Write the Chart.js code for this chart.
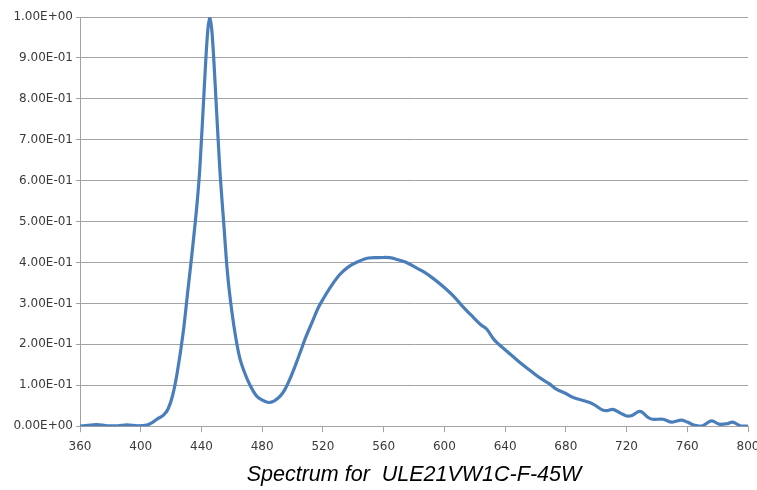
<!DOCTYPE html>
<html>
<head>
<meta charset="utf-8">
<script src="https://cdn.jsdelivr.net/npm/chart.js@4/dist/chart.umd.min.js"></script>
<style>
  html, body { margin: 0; padding: 0; background: #fff; }
  #wrap { width: 757px; height: 490px; }
</style>
</head>
<body>
<div id="wrap"><canvas id="c"></canvas></div>
<script>
// spectrum: wavelength (nm) -> relative intensity
var wavelengths = [360, 365, 371, 378, 385, 391, 398, 404, 408, 411, 415, 418, 421, 424, 428, 431, 434, 437, 439, 442, 444, 445.5, 447, 449, 452, 455, 457, 459, 462, 465, 468, 472, 476, 479, 484, 488, 492, 495, 498, 502, 505, 509, 513, 517, 520, 525, 531, 537, 543, 550, 557, 564, 570, 575, 581, 587, 593, 599, 606, 612, 618, 624, 628, 632, 635, 640, 645, 651, 658, 663, 669, 674, 680, 685, 692, 698, 704, 707, 711, 716, 720, 724, 728, 730, 734, 737, 744, 750, 756, 760, 765, 770, 776, 781, 786, 790, 795, 800];
var intensity = [0.0, 0.002, 0.004, 0.001, 0.001, 0.003, 0.001, 0.003, 0.010, 0.018, 0.027, 0.042, 0.075, 0.13, 0.23, 0.33, 0.43, 0.54, 0.634, 0.837, 0.96, 1.0, 0.96, 0.837, 0.634, 0.48, 0.38, 0.31, 0.23, 0.17, 0.135, 0.1, 0.075, 0.066, 0.058, 0.062, 0.074, 0.09, 0.113, 0.15, 0.18, 0.22, 0.255, 0.29, 0.31, 0.34, 0.37, 0.39, 0.402, 0.411, 0.412, 0.412, 0.406, 0.40, 0.388, 0.376, 0.36, 0.342, 0.318, 0.293, 0.27, 0.248, 0.237, 0.215, 0.203, 0.187, 0.171, 0.152, 0.132, 0.118, 0.104, 0.09, 0.08, 0.07, 0.062, 0.054, 0.04, 0.038, 0.041, 0.032, 0.025, 0.027, 0.036, 0.035, 0.022, 0.017, 0.017, 0.01, 0.015, 0.01, 0.002, 0.001, 0.013, 0.005, 0.006, 0.01, 0.001, 0.0];
var xTicks = [360, 400, 440, 480, 520, 560, 600, 640, 680, 720, 760, 800];
var titleText = "Spectrum for  ULE21VW1C-F-45W";

var points = wavelengths.map(function(w, i) { return { x: w, y: intensity[i] }; });

// Excel style scientific labels, e.g. 9.00E-01
function sci(v) {
  var s = Number(v).toExponential(2).toUpperCase();
  var parts = s.split("E");
  var sign = parts[1].charAt(0);
  var exp = parts[1].slice(1);
  if (exp.length < 2) exp = "0" + exp;
  return parts[0] + "E" + sign + exp;
}

var gridGray = "#a3a3a3";
var textGray = "#3a3a3a";

new Chart(document.getElementById("c"), {
  type: "line",
  data: {
    datasets: [{
      data: points,
      borderColor: "#4a7ebb",
      borderWidth: 3.2,
      pointRadius: 0,
      fill: false,
      tension: 0.35
    }]
  },
  options: {
    responsive: true,
    maintainAspectRatio: false,
    animation: false,
    layout: { padding: { top: 17, right: 9, left: 0, bottom: 0 } },
    plugins: {
      legend: { display: false },
      tooltip: { enabled: false },
      title: {
        display: true,
        text: titleText,
        position: "bottom",
        fullSize: false, // centre under the plot area, not the canvas
        color: "#000",
        font: { family: "'Liberation Sans', Arial, sans-serif", size: 21.5, style: "italic", weight: "normal" },
        padding: { top: 10, bottom: 2 }
      }
    },
    scales: {
      x: {
        type: "linear",
        min: 360,
        max: 800,
        afterBuildTicks: function(scale) {
          scale.ticks = xTicks.map(function(v) { return { value: v }; });
        },
        afterFit: function(scale) {
          scale.height = 26;
          scale.paddingLeft = 0;
          scale.paddingRight = 0;
        },
        grid: { drawOnChartArea: false, drawTicks: true, tickLength: 6, color: gridGray },
        border: { color: gridGray },
        ticks: {
          color: textGray,
          font: { family: "'DejaVu Sans', sans-serif", size: 12 },
          padding: 7,
          maxRotation: 0
        }
      },
      y: {
        min: 0,
        max: 1,
        afterFit: function(scale) {
          scale.width = 80;
          scale.paddingTop = 0;
          scale.paddingBottom = 0;
        },
        grid: { color: gridGray, tickLength: 4 },
        border: { color: gridGray },
        ticks: {
          stepSize: 0.1,
          color: textGray,
          font: { family: "'DejaVu Sans', sans-serif", size: 12 },
          padding: 3,
          callback: function(v) { return sci(v); }
        }
      }
    }
  }
});
</script>
</body>
</html>
